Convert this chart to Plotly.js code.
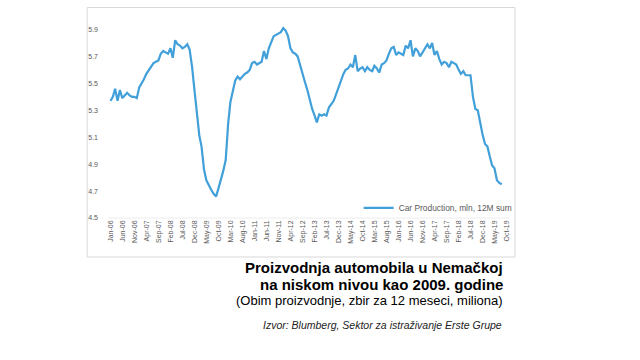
<!DOCTYPE html>
<html><head><meta charset="utf-8">
<script src="https://cdn.plot.ly/plotly-3.0.1.min.js"></script>
<style>body{margin:0;background:#fff}#c{width:640px;height:360px}</style>
</head><body><div id="c"></div>
<script>
// Monthly car production, Germany, mln, 12M sum (Jan-06 .. Aug-19)
const startMonth = '2006-01';
const carProduction = [
 5.37,5.40,5.46,5.37,5.45,5.39,5.41,5.43,5.41,5.40,5.40,5.39,
 5.47,5.50,5.53,5.57,5.60,5.63,5.65,5.66,5.67,5.72,5.74,5.73,
 5.72,5.76,5.69,5.82,5.79,5.78,5.76,5.77,5.79,5.75,5.62,5.45,
 5.25,5.11,5.03,4.86,4.78,4.74,4.71,4.68,4.66,4.72,4.78,4.85,
 4.93,5.20,5.36,5.45,5.52,5.55,5.53,5.55,5.57,5.58,5.60,5.65,
 5.66,5.64,5.65,5.66,5.74,5.68,5.76,5.81,5.85,5.86,5.87,5.88,
 5.91,5.89,5.85,5.76,5.73,5.72,5.70,5.63,5.57,5.51,5.45,5.38,
 5.31,5.26,5.21,5.27,5.26,5.27,5.26,5.32,5.35,5.37,5.42,5.47,
 5.52,5.57,5.60,5.61,5.64,5.62,5.71,5.59,5.61,5.62,5.59,5.62,
 5.60,5.59,5.63,5.61,5.58,5.64,5.65,5.67,5.72,5.76,5.77,5.71,
 5.73,5.72,5.71,5.78,5.76,5.82,5.70,5.76,5.74,5.70,5.73,5.76,
 5.79,5.76,5.80,5.71,5.74,5.68,5.64,5.66,5.65,5.62,5.66,5.65,
 5.64,5.60,5.57,5.59,5.56,5.56,5.56,5.40,5.31,5.30,5.20,5.12,
 5.05,5.03,4.96,4.89,4.87,4.78,4.76,4.75
];
const tickLabels = ['Jan-06','Jun-06','Nov-06','Apr-07','Sep-07','Feb-08','Jul-08','Dec-08','May-09','Oct-09',
 'Mar-10','Aug-10','Jan-11','Jun-11','Nov-11','Apr-12','Sep-12','Feb-13','Jul-13','Dec-13','May-14','Oct-14',
 'Mar-15','Aug-15','Jan-16','Jun-16','Nov-16','Apr-17','Sep-17','Feb-18','Jul-18','Dec-18','May-19','Oct-19'];
const yTicks = [4.5,4.7,4.9,5.1,5.3,5.5,5.7,5.9];
const seriesName = 'Car Production, mln, 12M sum';

const monNames = {Jan:1,Feb:2,Mar:3,Apr:4,May:5,Jun:6,Jul:7,Aug:8,Sep:9,Oct:10,Nov:11,Dec:12};
function labelToDate(l){const p=l.split('-');const m=monNames[p[0]];return '20'+p[1]+'-'+(m<10?'0':'')+m+'-01';}
const sy = parseInt(startMonth.slice(0,4)), sm = parseInt(startMonth.slice(5,7));
const xDates = carProduction.map((_,i)=>{const t=(sm-1)+i;const y=sy+Math.floor(t/12);const m=t%12+1;return y+'-'+(m<10?'0':'')+m+'-01';});

const grey = '#595959';
const trace = {x:xDates, y:carProduction, type:'scatter', mode:'lines', name:seriesName,
  line:{color:'#41a0d9', width:2.2}};
const F = 'Liberation Sans, Arial, sans-serif';
const layout = {
  width:640, height:360, paper_bgcolor:'#fff', plot_bgcolor:'#fff',
  margin:{l:108, r:131, t:16, b:142},
  font:{family:F, color:grey},
  xaxis:{type:'date', range:['2005-12-01','2019-11-01'], tickvals:tickLabels.map(labelToDate), ticktext:tickLabels,
    tickangle:-90, tickfont:{size:7, color:grey}, showgrid:false, zeroline:false, showline:false, ticks:'', ticklen:0},
  yaxis:{range:[4.5,6.0], tickvals:yTicks, ticktext:yTicks.map(v=>v.toFixed(1)), tickfont:{size:7, color:grey},
    showgrid:false, zeroline:false, showline:false, ticks:'', ticklabelstandoff:9},
  showlegend:true,
  legend:{x:0.625, y:0.05, xanchor:'left', yanchor:'middle', font:{size:8.4, color:grey}, bgcolor:'rgba(0,0,0,0)'},
  shapes:[
    {type:'rect', xref:'paper', yref:'paper', x0:-0.052, x1:1.015, y0:-0.193, y1:1.042, line:{color:'#d9d9d9', width:1}},
    {type:'line', xref:'paper', yref:'paper', x0:0, x1:1, y0:0, y1:0, line:{color:'#ececec', width:1}}
  ],
  annotations:[
    {xref:'paper', yref:'paper', x:(505-108)/401, y:(218-268)/202.5, xanchor:'right', yanchor:'middle', showarrow:false,
     text:'<b>Proizvodnja automobila u Nemačkoj</b>', font:{size:15, color:'#000', family:F}},
    {xref:'paper', yref:'paper', x:(505-108)/401, y:(218-285)/202.5, xanchor:'right', yanchor:'middle', showarrow:false,
     text:'<b>na niskom nivou kao 2009. godine</b>', font:{size:15, color:'#000', family:F}},
    {xref:'paper', yref:'paper', x:(505-108)/401, y:(218-301)/202.5, xanchor:'right', yanchor:'middle', showarrow:false,
     text:'(Obim proizvodnje, zbir za 12 meseci, miliona)', font:{size:13, color:'#000', family:F}},
    {xref:'paper', yref:'paper', x:(504-108)/401, y:(218-325)/202.5, xanchor:'right', yanchor:'middle', showarrow:false,
     text:'<i>Izvor: Blumberg, Sektor za istraživanje Erste Grupe</i>', font:{size:10.5, color:'#222', family:F}}
  ]
};
Plotly.newPlot('c',[trace],layout,{displayModeBar:false, staticPlot:true});
</script></body></html>
